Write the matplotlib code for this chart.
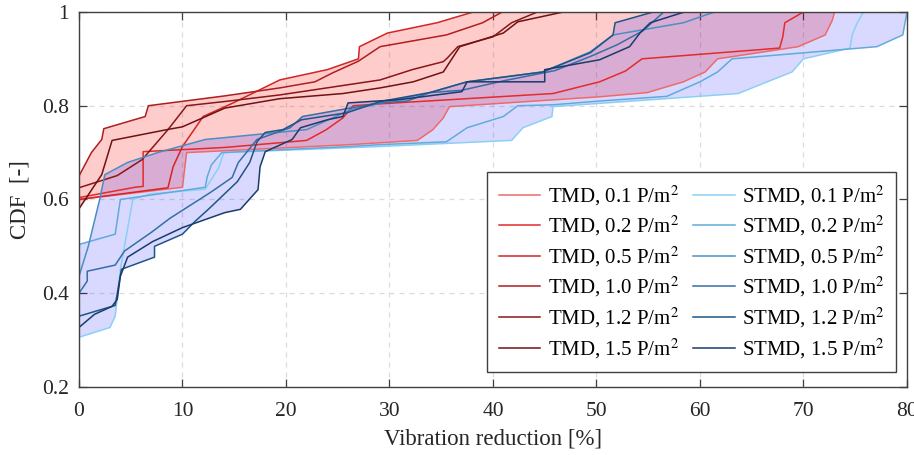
import numpy as np
import matplotlib
matplotlib.use('Agg')
import matplotlib.pyplot as plt

plt.rcParams['font.family'] = ['Liberation Serif', 'DejaVu Serif']
plt.rcParams['mathtext.fontset'] = 'stix'

# CDF curves: x = vibration reduction [%], y = CDF [-]
tmd_01_x = [0, 0, 10.0, 10.4, 26.2, 32.7, 34.2, 35.2, 35.8, 50.3, 54.9, 58.4, 60.5, 61.7, 69.5, 72.1, 72.8, 73.0]
tmd_01_y = [0, 0.60, 0.626, 0.70, 0.717, 0.726, 0.749, 0.774, 0.798, 0.819, 0.828, 0.851, 0.872, 0.90, 0.926, 0.951, 0.983, 1.0]

tmd_02_x = [0, 0, 5.4, 6.2, 6.2, 14.1, 22.0, 23.9, 25.5, 26.5, 29.1, 45.8, 50.3, 52.8, 54.4, 67.7, 68.0, 68.2, 70.0]
tmd_02_y = [0, 0.604, 0.626, 0.628, 0.702, 0.711, 0.726, 0.749, 0.774, 0.80, 0.804, 0.826, 0.851, 0.874, 0.90, 0.923, 0.947, 0.977, 1.0]

tmd_05_x = [0, 0, 8.6, 9.1, 10.0, 12.0, 14.9, 19.4, 24.0, 27.0, 27.1, 29.8, 34.6, 38.1]
tmd_05_y = [0, 0.60, 0.625, 0.67, 0.713, 0.777, 0.806, 0.855, 0.877, 0.90, 0.926, 0.955, 0.977, 1.0]

tmd_10_x = [0, 0, 1.2, 2.2, 2.4, 6.4, 6.7, 14.1, 19.4, 22.8, 24.5, 27.0, 29.1, 35.5, 39.0, 40.9]
tmd_10_y = [0, 0.65, 0.70, 0.728, 0.751, 0.777, 0.80, 0.821, 0.838, 0.851, 0.87, 0.895, 0.926, 0.951, 0.977, 1.0]

tmd_12_x = [0, 0, 3.7, 6.1, 8.6, 10.4, 14.1, 19.4, 29.1, 32.2, 35.2, 35.6, 36.6, 40.0, 41.8, 44.3]
tmd_12_y = [0, 0.625, 0.651, 0.685, 0.749, 0.80, 0.809, 0.823, 0.855, 0.877, 0.894, 0.902, 0.926, 0.947, 0.977, 1.0]

tmd_15_x = [0, 0, 2.2, 3.2, 8.5, 10.0, 14.1, 19.4, 25.5, 29.1, 32.3, 35.2, 36.8, 41.0, 42.4, 46.8]
tmd_15_y = [0, 0.58, 0.653, 0.726, 0.749, 0.755, 0.795, 0.815, 0.826, 0.838, 0.851, 0.872, 0.926, 0.955, 0.979, 1.0]

stmd_01_x = [0, 0, 3.0, 3.5, 4.0, 5.2, 6.9, 12.2, 13.0, 13.5, 14.0, 29.1, 41.8, 42.9, 45.7, 45.8, 50.3, 63.7,
             66.5, 68.9, 70.0, 74.5, 74.7, 75.2, 75.8]
stmd_01_y = [0, 0.306, 0.327, 0.351, 0.451, 0.60, 0.612, 0.622, 0.65, 0.668, 0.70, 0.713, 0.726, 0.753, 0.777,
             0.798, 0.805, 0.826, 0.851, 0.872, 0.90, 0.923, 0.951, 0.977, 1.0]

stmd_02_x = [0, 0, 3.5, 4.0, 12.2, 12.4, 12.8, 13.8, 26.2, 29.1, 35.5, 37.5, 41.0, 42.4, 45.8, 50.3, 56.8, 60.0,
             61.7, 63.1, 77.1, 79.6, 80.0]
stmd_02_y = [0, 0.504, 0.526, 0.60, 0.626, 0.649, 0.674, 0.70, 0.713, 0.717, 0.723, 0.753, 0.777, 0.80, 0.802,
             0.81, 0.82, 0.851, 0.872, 0.90, 0.926, 0.951, 1.0]

stmd_05_x = [0, 0, 0.9, 2.0, 2.5, 4.7, 7.6, 12.2, 14.1, 22.0, 26.2, 29.1, 33.9, 37.5, 44.8, 49.4, 51.6, 58.4, 61.4]
stmd_05_y = [0, 0.436, 0.50, 0.60, 0.653, 0.679, 0.70, 0.728, 0.732, 0.749, 0.791, 0.805, 0.828, 0.851, 0.872,
             0.915, 0.951, 0.977, 1.0]

stmd_10_x = [0, 0, 0.8, 0.8, 3.5, 4.4, 7.0, 8.8, 12.7, 14.8, 15.4, 17.2, 20.4, 21.6, 26.2, 29.1, 31.7, 33.9,
             37.0, 41.0, 46.0, 49.4, 52.0, 54.5, 56.5]
stmd_10_y = [0, 0.40, 0.426, 0.447, 0.46, 0.49, 0.53, 0.56, 0.615, 0.647, 0.679, 0.728, 0.753, 0.777, 0.795,
             0.806, 0.81, 0.828, 0.833, 0.853, 0.875, 0.905, 0.93, 0.96, 1.0]

stmd_12_x = [0, 0, 3.5, 4.1, 7.3, 7.3, 10.0, 11.2, 12.5, 15.3, 16.5, 17.2, 18.0, 19.7, 21.5, 25.9, 29.1, 33.9,
             37.5, 44.8, 49.4, 51.6, 51.8, 55.5]
stmd_12_y = [0, 0.351, 0.374, 0.451, 0.477, 0.50, 0.526, 0.553, 0.579, 0.638, 0.679, 0.723, 0.743, 0.749, 0.77,
             0.785, 0.809, 0.828, 0.851, 0.872, 0.913, 0.951, 0.977, 1.0]

stmd_15_x = [0, 0, 1.5, 3.2, 3.7, 4.0, 4.7, 7.1, 10.0, 14.1, 15.6, 17.3, 17.5, 18.0, 20.6, 21.4, 24.0, 25.5,
             26.0, 31.0, 37.0, 37.5, 45.0, 45.0, 50.3, 53.2, 54.2, 55.2, 58.5]
stmd_15_y = [0, 0.327, 0.355, 0.372, 0.387, 0.436, 0.477, 0.51, 0.54, 0.572, 0.579, 0.621, 0.67, 0.702, 0.728,
             0.753, 0.77, 0.777, 0.806, 0.813, 0.83, 0.851, 0.851, 0.877, 0.898, 0.926, 0.955, 0.977, 1.0]

densities = ['0.1', '0.2', '0.5', '1.0', '1.2', '1.5']
tmd_colors = ['#ee6a6a', '#e42a2a', '#d42424', '#b01e1e', '#8a1616', '#6e1212']
stmd_colors = ['#8ccff5', '#62aadb', '#4a8fc2', '#346fa5', '#1f5586', '#1a3b6c']

tmd_curves = [(tmd_01_x, tmd_01_y), (tmd_02_x, tmd_02_y), (tmd_05_x, tmd_05_y),
              (tmd_10_x, tmd_10_y), (tmd_12_x, tmd_12_y), (tmd_15_x, tmd_15_y)]
stmd_curves = [(stmd_01_x, stmd_01_y), (stmd_02_x, stmd_02_y), (stmd_05_x, stmd_05_y),
               (stmd_10_x, stmd_10_y), (stmd_12_x, stmd_12_y), (stmd_15_x, stmd_15_y)]


def envelope(curves, y_grid):
    # x of every curve at the same CDF levels -> min / max band
    xs = np.array([np.interp(y_grid, cy, cx) for cx, cy in curves])
    return xs.min(axis=0), xs.max(axis=0)


fig = plt.figure(figsize=(9.14, 4.55), dpi=100)
ax = fig.add_axes([0.0864, 0.1495, 0.9059, 0.8242])

y_grid = np.linspace(0, 1, 3001)
lo, hi = envelope(tmd_curves, y_grid)
ax.fill_betweenx(y_grid, lo, hi, color='red', alpha=0.2, linewidth=0)
lo, hi = envelope(stmd_curves, y_grid)
ax.fill_betweenx(y_grid, lo, hi, color='blue', alpha=0.15, linewidth=0)

handles = []
for (cx, cy), col, d in zip(tmd_curves, tmd_colors, densities):
    h, = ax.plot(cx, cy, color=col, lw=1.1, label='TMD, ' + d + ' P/m$^2$')
    handles.append(h)
for (cx, cy), col, d in zip(stmd_curves, stmd_colors, densities):
    h, = ax.plot(cx, cy, color=col, lw=1.1, label='STMD, ' + d + ' P/m$^2$')
    handles.append(h)

ax.set_xlim(0, 80)
ax.set_ylim(0.2, 1)
ax.set_xticks(np.arange(0, 81, 10))
ax.set_yticks([0.2, 0.4, 0.6, 0.8, 1.0])
ax.set_yticklabels(['0.2', '0.4', '0.6', '0.8', '1'])
ax.grid(True, color='#dcdcdc', linestyle=(0, (4, 4)), linewidth=0.9)
ax.set_axisbelow(True)

for s in ax.spines.values():
    s.set_color('#404040')
    s.set_linewidth(1.0)
ax.tick_params(direction='in', length=5.5, width=0.9, colors='#404040', labelcolor='#262626',
               top=True, right=True, labelsize=15.5)
ax.tick_params(axis='x', pad=11)
ax.tick_params(axis='y', pad=7)

ax.set_xlabel('Vibration reduction [%]', fontsize=16.5, color='#262626')
ax.set_ylabel('CDF  [-]', fontsize=16.5, color='#262626')
ax.xaxis.set_label_coords(0.5, -0.11)
ax.yaxis.set_label_coords(-0.058, 0.5)

leg = ax.legend(handles=handles, ncol=2, loc='lower right', bbox_to_anchor=(0.987, 0.04),
                fontsize=15, frameon=True, fancybox=False, edgecolor='#404040', framealpha=1,
                handlelength=2.0, handletextpad=0.35, columnspacing=0.7, labelspacing=0.3,
                borderpad=0.55, borderaxespad=0)
leg.get_frame().set_linewidth(1.0)

fig.savefig('out.png', dpi=100)
